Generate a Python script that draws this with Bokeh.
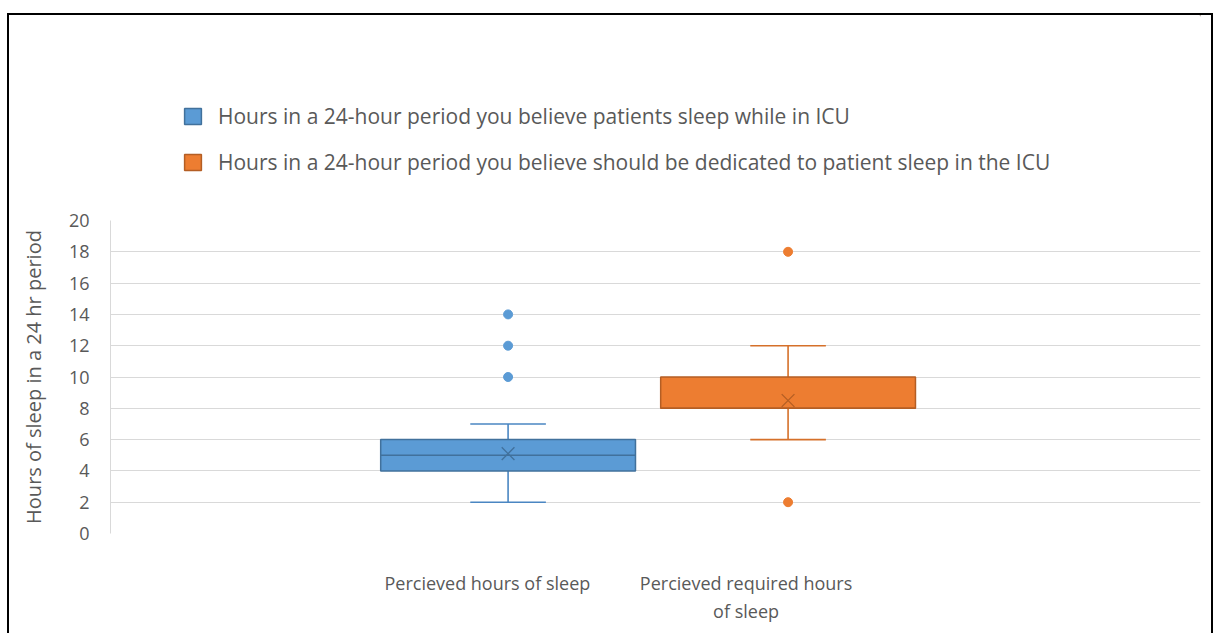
from bokeh.plotting import figure
from bokeh.layouts import column
from bokeh.models import ColumnDataSource, Range1d, FixedTicker, Legend, LegendItem
from bokeh.embed import file_html
from bokeh.resources import INLINE

# ---- data ----
categories = ["Percieved hours of sleep", "Percieved required hours\nof sleep"]
series_names = [
    "Hours in a 24-hour period you believe patients sleep while in ICU",
    "Hours in a 24-hour period you believe should be dedicated to patient sleep in the ICU",
]
q1 = [4, 8]
medians = [5, 8]
q3 = [6, 10]
whisker_low = [2, 6]
whisker_high = [7, 12]
means = [5.1, 8.5]
outliers = [[10, 12, 14], [2, 18]]
y_ticks = [0, 2, 4, 6, 8, 10, 12, 14, 16, 18, 20]

# ---- styles ----
fills = ["#5B9BD5", "#ED7D31"]
edges = ["#4A86C2", "#D5702A"]
marks = ["#41719C", "#B45E24"]
FONT = "Open Sans"
TXT = "#595959"
BOX_W = 0.91
CAP_W = 0.27
label_offsets = [-0.074, -0.15]
BORDER = "2px solid #000"

# ---- legend strip (top part of the chart area) ----
lf = figure(width=1206, height=192, x_range=Range1d(0, 1), y_range=Range1d(0, 1),
            output_backend="svg", toolbar_location=None,
            x_axis_location=None, y_axis_location=None,
            min_border=0, margin=(13, 0, 0, 7),
            styles={"border-top": BORDER, "border-left": BORDER, "border-right": BORDER})
lf.outline_line_color = None
lf.grid.visible = False

# ---- main box plot ----
p = figure(width=1206, height=428,
           x_range=Range1d(-0.42, 3.473), y_range=Range1d(0, 20),
           output_backend="svg", toolbar_location=None,
           min_border_left=101, min_border_right=15,
           min_border_top=15, min_border_bottom=100,
           margin=(0, 0, 0, 7),
           styles={"border-left": BORDER, "border-right": BORDER})
p.outline_line_color = None
p.xgrid.visible = False
p.ygrid.grid_line_color = "#d9d9d9"
p.ygrid.grid_line_width = 1

p.yaxis.ticker = FixedTicker(ticks=y_ticks)
p.yaxis.axis_line_color = "#d9d9d9"
p.yaxis.major_tick_line_color = None
p.yaxis.minor_tick_line_color = None
p.yaxis.major_label_text_font = FONT
p.yaxis.major_label_text_font_size = "18px"
p.yaxis.major_label_text_color = TXT
p.yaxis.major_label_standoff = 15
p.yaxis.axis_label = "Hours of sleep in a 24 hr period"
p.yaxis.axis_label_text_font = FONT
p.yaxis.axis_label_text_font_size = "20px"
p.yaxis.axis_label_text_font_style = "normal"
p.yaxis.axis_label_text_color = TXT
p.yaxis.axis_label_standoff = 19

tick_pos = [i + 1 + label_offsets[i] for i in range(len(categories))]
p.xaxis.ticker = FixedTicker(ticks=tick_pos)
p.xaxis.major_label_overrides = {tick_pos[i]: categories[i] for i in range(len(categories))}
p.xaxis.axis_line_color = None
p.xaxis.major_tick_line_color = None
p.xaxis.minor_tick_line_color = None
p.xaxis.major_label_text_font = FONT
p.xaxis.major_label_text_font_size = "18px"
p.xaxis.major_label_text_color = TXT
p.xaxis.major_label_standoff = 31

legend_items = []
for i in range(len(series_names)):
    x = i + 1
    src = ColumnDataSource(dict(
        x=[x], q1=[q1[i]], q3=[q3[i]], med=[medians[i]], lo=[whisker_low[i]],
        hi=[whisker_high[i]], mean=[means[i]],
        x0=[x - BOX_W / 2], x1=[x + BOX_W / 2],
        c0=[x - CAP_W / 2], c1=[x + CAP_W / 2]))
    p.segment(x0="x", y0="q3", x1="x", y1="hi", source=src, line_color=edges[i], line_width=1.6)
    p.segment(x0="x", y0="q1", x1="x", y1="lo", source=src, line_color=edges[i], line_width=1.6)
    p.segment(x0="c0", y0="hi", x1="c1", y1="hi", source=src, line_color=edges[i], line_width=1.6)
    p.segment(x0="c0", y0="lo", x1="c1", y1="lo", source=src, line_color=edges[i], line_width=1.6)
    p.vbar(x="x", width=BOX_W, bottom="q1", top="q3", source=src,
           fill_color=fills[i], line_color=marks[i], line_width=1.5)
    p.segment(x0="x0", y0="med", x1="x1", y1="med", source=src, line_color=marks[i], line_width=1.5)
    p.scatter(x="x", y="mean", source=src, marker="x", size=18,
              line_color=marks[i], line_width=1.3)
    osrc = ColumnDataSource(dict(x=[x] * len(outliers[i]), y=outliers[i]))
    p.scatter(x="x", y="y", source=osrc, marker="circle", size=9,
              fill_color=fills[i], line_color=fills[i])
    # legend swatch renderer in the legend strip: same box style, placed outside the strip's range
    sw_src = ColumnDataSource(dict(x=[x + 10], lo=[q1[i]], hi=[q3[i]]))
    sw = lf.vbar(x="x", bottom="lo", top="hi", width=BOX_W, source=sw_src,
                 fill_color=fills[i], line_color=marks[i], line_width=1.5)
    legend_items.append(LegendItem(label=series_names[i], renderers=[sw]))

legend = Legend(items=legend_items, location=(72, 31),
                glyph_height=20, glyph_width=21, label_height=20,
                spacing=18, label_standoff=15, padding=0, margin=0,
                border_line_color=None, background_fill_alpha=0,
                label_text_font=FONT, label_text_font_size="21px",
                label_text_color=TXT)
lf.add_layout(legend)

page = column(lf, p, spacing=0)
open("out.html", "w").write(file_html(page, INLINE))
